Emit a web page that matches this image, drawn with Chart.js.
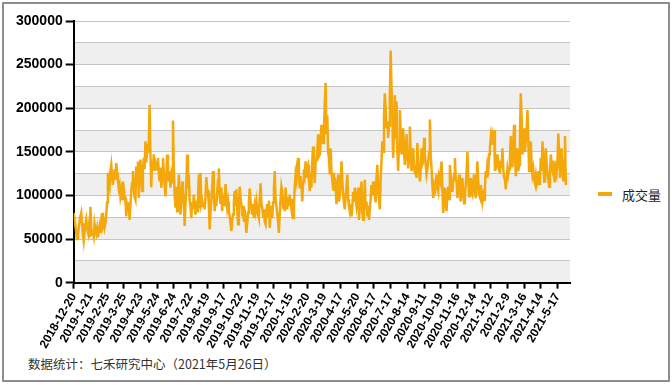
<!DOCTYPE html>
<html lang="zh">
<head>
<meta charset="utf-8">
<title>成交量</title>
<script src="https://cdn.jsdelivr.net/npm/chart.js@4.4.1/dist/chart.umd.min.js"></script>
<style>
  html, body { margin: 0; padding: 0; background: #fff; }
  .frame {
    position: absolute; left: 2px; top: 2px; width: 668px; height: 380px;
    border: 2px solid #8e8e8e; box-sizing: border-box;
  }
  #chart { position: absolute; left: 4px; top: 4px; }
  .legend {
    position: absolute; left: 598px; top: 185px; height: 18px;
    display: flex; align-items: center;
    font: 13px "Noto Sans CJK SC", sans-serif; color: #222;
  }
  .legend .swatch { width: 14px; height: 4px; background: #f5a80c; margin-right: 10px; }
  .note {
    position: absolute; left: 28px; top: 354px; line-height: 16px;
    font: 12.5px "Noto Sans CJK SC", sans-serif; color: #333;
  }
</style>
</head>
<body>
<div class="frame"></div>
<canvas id="chart" width="580" height="350"></canvas>
<div class="legend"><span class="swatch"></span><span id="legendText"></span></div>
<div class="note" id="note"></div>

<script>
const SERIES_NAME = "成交量";
const NOTE = "数据统计：七禾研究中心（2021年5月26日）";
const TICK_EVERY = 20; // one date label every 20 trading days

const tickLabels = [
  "2018-12-20", "2019-1-21", "2019-2-25", "2019-3-25", "2019-4-23", "2019-5-24",
  "2019-6-24", "2019-7-22", "2019-8-19", "2019-9-17", "2019-10-22", "2019-11-19",
  "2019-12-17", "2020-1-15", "2020-2-20", "2020-3-19", "2020-4-17", "2020-5-20",
  "2020-6-17", "2020-7-17", "2020-8-14", "2020-9-11", "2020-10-19", "2020-11-16",
  "2020-12-14", "2021-1-12", "2021-2-9", "2021-3-16", "2021-4-14", "2021-5-17",
];

// daily volume, one row per label interval
const volume = [
  80000, 72000, 65000, 58000, 50000, 55000, 62000, 70000, 76000, 80000, 68000, 56000, 48000, 58000, 66000, 72000, 62000, 58000, 65000, 52000,
  87000, 62000, 55000, 58000, 53000, 67000, 60000, 56000, 62000, 52000, 58000, 64000, 57000, 72000, 80000, 66000, 70000, 63000, 68000, 78000,
  92000, 126000, 115000, 110000, 128000, 135000, 122000, 112000, 120000, 130000, 118000, 137000, 126000, 118000, 108000, 112000, 99000, 105000, 96000, 116000,
  108000, 100000, 95000, 76000, 88000, 82000, 92000, 72000, 90000, 104000, 114000, 128000, 110000, 98000, 95000, 133000, 118000, 139000, 97000, 126000,
  141000, 122000, 105000, 128000, 143000, 130000, 162000, 138000, 150000, 158000, 160000, 204000, 147000, 109000, 140000, 130000, 147000, 128000, 138000, 135000,
  130000, 143000, 125000, 116000, 132000, 109000, 120000, 143000, 128000, 112000, 99000, 118000, 147000, 124000, 116000, 128000, 109000, 122000, 115000, 186000,
  131000, 100000, 86000, 110000, 82000, 96000, 124000, 100000, 78000, 92000, 116000, 104000, 93000, 65000, 90000, 112000, 147000, 108000, 124000, 95000,
  88000, 74000, 92000, 85000, 101000, 88000, 78000, 94000, 82000, 96000, 124000, 85000, 126000, 90000, 94000, 88000, 92000, 84000, 98000, 121000,
  108000, 105000, 88000, 61000, 80000, 93000, 110000, 128000, 102000, 82000, 96000, 88000, 104000, 118000, 131000, 100000, 90000, 109000, 82000, 98000,
  95000, 88000, 113000, 98000, 86000, 93000, 82000, 76000, 68000, 59000, 72000, 78000, 92000, 105000, 88000, 107000, 84000, 67000, 90000, 110000,
  98000, 90000, 76000, 88000, 70000, 84000, 72000, 57000, 68000, 80000, 92000, 108000, 94000, 86000, 78000, 90000, 74000, 88000, 82000, 93000,
  85000, 78000, 74000, 96000, 114000, 90000, 86000, 76000, 84000, 70000, 67000, 82000, 90000, 76000, 94000, 63000, 80000, 88000, 74000, 92000,
  108000, 128000, 96000, 88000, 78000, 70000, 57000, 80000, 96000, 110000, 104000, 86000, 100000, 82000, 109000, 92000, 84000, 98000, 88000, 101000,
  90000, 84000, 96000, 74000, 88000, 110000, 124000, 118000, 136000, 143000, 125000, 108000, 122000, 112000, 93000, 116000, 130000, 124000, 139000, 120000,
  132000, 135000, 118000, 105000, 126000, 109000, 140000, 156000, 128000, 114000, 138000, 140000, 150000, 170000, 145000, 147000, 162000, 181000, 168000, 160000,
  178000, 205000, 229000, 170000, 192000, 150000, 143000, 124000, 154000, 128000, 118000, 126000, 105000, 120000, 112000, 90000, 108000, 124000, 93000, 100000,
  112000, 139000, 118000, 101000, 92000, 84000, 98000, 110000, 124000, 96000, 88000, 82000, 90000, 76000, 86000, 104000, 93000, 109000, 96000, 88000,
  98000, 109000, 72000, 86000, 94000, 116000, 80000, 72000, 90000, 118000, 84000, 93000, 76000, 88000, 72000, 84000, 96000, 112000, 100000, 116000,
  104000, 101000, 92000, 120000, 135000, 108000, 96000, 84000, 118000, 140000, 162000, 150000, 190000, 217000, 200000, 177000, 185000, 166000, 180000, 212000,
  266000, 225000, 192000, 143000, 175000, 215000, 165000, 208000, 150000, 128000, 160000, 198000, 172000, 147000, 160000, 177000, 150000, 135000, 152000, 170000,
  150000, 131000, 142000, 179000, 150000, 128000, 138000, 154000, 135000, 124000, 132000, 120000, 160000, 140000, 128000, 116000, 130000, 154000, 136000, 139000,
  166000, 148000, 135000, 124000, 130000, 139000, 150000, 187000, 145000, 131000, 112000, 97000, 108000, 101000, 115000, 124000, 110000, 105000, 122000, 118000,
  126000, 139000, 108000, 80000, 95000, 109000, 92000, 82000, 102000, 110000, 96000, 135000, 120000, 112000, 104000, 116000, 124000, 143000, 118000, 116000,
  97000, 110000, 124000, 105000, 93000, 112000, 120000, 102000, 91000, 100000, 112000, 126000, 150000, 118000, 99000, 108000, 120000, 104000, 101000, 116000,
  124000, 108000, 97000, 110000, 139000, 116000, 101000, 98000, 112000, 104000, 93000, 100000, 95000, 110000, 128000, 120000, 135000, 130000, 147000, 155000,
  166000, 158000, 170000, 165000, 175000, 128000, 140000, 136000, 147000, 138000, 131000, 125000, 140000, 132000, 154000, 130000, 120000, 118000, 107000, 120000,
  131000, 124000, 130000, 145000, 168000, 150000, 132000, 160000, 181000, 150000, 122000, 140000, 154000, 128000, 135000, 170000, 217000, 190000, 147000, 160000,
  177000, 150000, 162000, 175000, 198000, 165000, 128000, 145000, 162000, 135000, 124000, 130000, 118000, 114000, 122000, 112000, 116000, 128000, 113000, 120000,
  143000, 128000, 162000, 140000, 116000, 130000, 154000, 138000, 124000, 118000, 110000, 126000, 147000, 132000, 128000, 140000, 120000, 115000, 131000, 126000,
  140000, 171000, 150000, 120000, 135000, 154000, 130000, 116000, 140000, 168000, 112000,
];

const ORANGE = "#f5a80c";
const BAND = "#efefef";
const GRID = "#c4c4c4";

// alternating grey bands behind the grid, every other 25000 step
const bands = {
  id: "bands",
  beforeDraw(chart) {
    const { ctx, chartArea, scales } = chart;
    const y = scales.y;
    ctx.save();
    ctx.fillStyle = BAND;
    for (let v = y.min; v < y.max; v += 50000) {
      const top = y.getPixelForValue(v + 25000);
      const bottom = y.getPixelForValue(v);
      ctx.fillRect(chartArea.left, top, chartArea.right - chartArea.left, bottom - top);
    }
    ctx.restore();
  },
};

document.getElementById("legendText").textContent = SERIES_NAME;
document.getElementById("note").textContent = NOTE;

const tickFont = { family: "'Liberation Sans', Arial, sans-serif", weight: "bold" };

new Chart(document.getElementById("chart").getContext("2d"), {
  type: "line",
  data: {
    datasets: [
      {
        label: SERIES_NAME,
        data: volume.map((v, i) => ({ x: i, y: v })),
        borderColor: ORANGE,
        backgroundColor: ORANGE,
        borderWidth: 2.5,
        pointRadius: 0,
        tension: 0,
        fill: false,
      },
    ],
  },
  plugins: [bands],
  options: {
    responsive: false,
    animation: false,
    layout: { padding: { left: 9, top: 17, right: 14, bottom: 1 } },
    plugins: { legend: { display: false }, tooltip: { enabled: false } },
    scales: {
      x: {
        type: "linear",
        min: 0,
        max: 595,
        afterBuildTicks: (axis) => {
          axis.ticks = tickLabels.map((_, k) => ({ value: k * TICK_EVERY }));
        },
        ticks: {
          callback: (value) => tickLabels[value / TICK_EVERY],
          autoSkip: false,
          minRotation: 60,
          maxRotation: 60,
          padding: 2,
          color: "#000",
          font: { ...tickFont, size: 12 },
        },
        grid: { drawOnChartArea: false, tickLength: 6, tickColor: "#000", tickWidth: 2 },
        border: { color: "#000", width: 2 },
      },
      y: {
        min: 0,
        max: 300000,
        ticks: {
          stepSize: 25000,
          callback: (value) => (value % 50000 === 0 ? String(value) : ""),
          padding: 3,
          color: "#000",
          font: { ...tickFont, size: 14 },
        },
        grid: {
          color: GRID,
          lineWidth: 1,
          tickLength: 8,
          tickWidth: 2,
          tickColor: (ctx) => (ctx.tick && ctx.tick.value % 50000 === 0 ? "#000" : "rgba(0,0,0,0)"),
        },
        border: { color: "#000", width: 2 },
      },
    },
  },
});
</script>
</body>
</html>
